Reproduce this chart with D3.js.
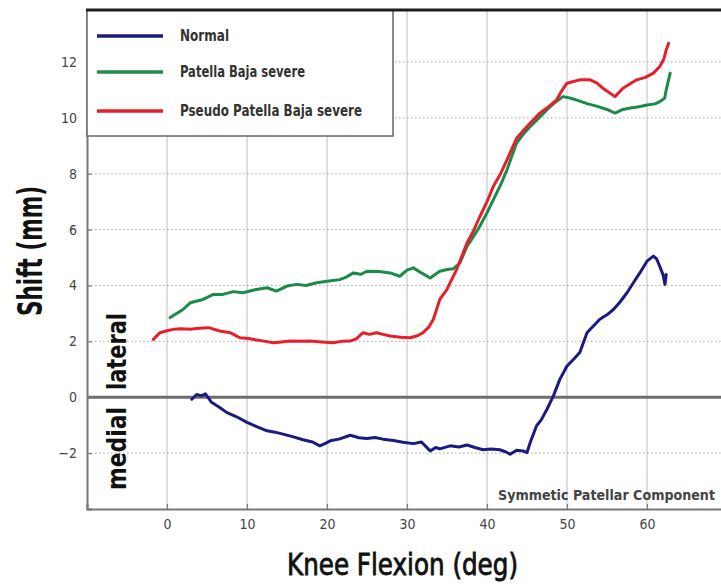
<!DOCTYPE html>
<html>
<head>
<meta charset="utf-8">
<script src="https://cdn.jsdelivr.net/npm/d3@7/dist/d3.min.js"></script>
<style>
  html, body { margin: 0; padding: 0; background: #fff; }
  svg { display: block; }
  .cond { font-family: "DejaVu Sans Condensed", "DejaVu Sans", sans-serif; font-stretch: condensed; }
</style>
</head>
<body>
<svg id="chart" width="721" height="584"></svg>
<script>
// Patellar shift vs knee flexion
const seriesNames = ["Normal", "Patella Baja severe", "Pseudo Patella Baja severe"];
const seriesColors = ["#1b1a82", "#1c8a48", "#e6202b"];

const normalX = [3.1,3.7,4.3,4.8,5.6,6.5,7.5,8.7,10,11.2,12.5,13.5,14.5,15.8,17,18.2,19.1,19.8,20.4,21.5,22.9,24,25,26,27,28.3,29.5,30.8,31.8,32.9,33.6,34.1,35.4,36.5,37.5,38.5,39.5,40.5,41.6,42.3,42.9,43.7,44.5,45,45.4,46.2,46.8,47.5,48.3,49.1,50,50.8,51.6,52.5,53.3,54.1,55,55.8,56.6,57.5,58.3,59.1,60,60.8,61.2,61.5,62,62.25,62.4];
const normalY = [-0.07,0.1,0.05,0.12,-0.19,-0.35,-0.55,-0.7,-0.9,-1.05,-1.2,-1.25,-1.32,-1.42,-1.52,-1.6,-1.74,-1.65,-1.56,-1.5,-1.36,-1.45,-1.48,-1.44,-1.5,-1.55,-1.61,-1.66,-1.6,-1.92,-1.8,-1.85,-1.74,-1.78,-1.71,-1.8,-1.88,-1.85,-1.88,-1.95,-2.04,-1.9,-1.92,-1.98,-1.62,-1.02,-0.8,-0.43,0.05,0.64,1.12,1.35,1.6,2.31,2.55,2.79,2.95,3.14,3.4,3.74,4.1,4.45,4.87,5.05,4.95,4.75,4.39,4.04,4.39];

const bajaX = [0.4,1.2,2.0,2.9,4.5,5.8,7,8.3,9.5,11,12.5,13.7,15,16.2,17.4,18.7,20,21.6,22.4,23.3,24.2,25,26.5,27.9,29.1,30,30.8,31.8,32.9,34.1,35,35.8,36.6,37.5,38.3,39.1,40,40.8,41.7,42.5,43.7,44.5,45.4,46.5,47.5,48.5,49.5,50.5,51.6,52.6,53.7,55,56,57,57.9,59,60,61,61.6,62.2,62.4,62.9];
const bajaY = [2.85,3.0,3.14,3.38,3.5,3.68,3.68,3.78,3.74,3.85,3.92,3.8,3.98,4.04,4.0,4.1,4.15,4.21,4.3,4.45,4.4,4.51,4.5,4.45,4.33,4.55,4.63,4.45,4.27,4.51,4.57,4.6,4.8,5.4,5.75,6.12,6.6,7.07,7.6,8.14,9.1,9.4,9.69,10.0,10.29,10.55,10.76,10.7,10.6,10.5,10.42,10.3,10.17,10.3,10.35,10.4,10.46,10.5,10.58,10.7,11.0,11.6];

const pseudoX = [-1.7,-0.9,0,0.8,1.8,2.9,4,5.2,6.6,7.9,9.1,10.2,11.2,12.3,13.3,14.3,15.4,16.7,17.9,19.3,20.8,21.8,22.9,23.7,24.5,25.3,26.2,27,27.9,29.2,30.4,31.3,32,32.7,33.3,34.1,35,35.4,36.2,37.5,38.3,39.1,40,40.8,41.7,42.5,43.7,45,46.6,47.7,48.7,49.3,50,50.8,51.6,52.9,53.7,54.5,56,57,57.8,58.7,59.8,60.8,61.6,62.1,62.4,62.7];
const pseudoY = [2.07,2.31,2.38,2.43,2.45,2.43,2.47,2.49,2.37,2.31,2.13,2.1,2.05,2.0,1.95,1.98,2.01,2.0,2.01,1.98,1.95,2.0,2.01,2.1,2.31,2.25,2.31,2.25,2.19,2.15,2.13,2.2,2.31,2.5,2.79,3.5,3.86,4.1,4.57,5.52,5.95,6.46,7.0,7.55,8.0,8.5,9.27,9.69,10.17,10.4,10.64,10.95,11.24,11.3,11.36,11.36,11.25,11.06,10.76,11.06,11.2,11.36,11.45,11.6,11.84,12.1,12.43,12.67];

const xTicks = [0, 10, 20, 30, 40, 50, 60];
const xGrid = [0, 10, 20, 30, 40, 50, 60, 70];
const yTicks = [-2, 0, 2, 4, 6, 8, 10, 12];
const yGrid = [-2, 2, 4, 6, 8, 10, 12];

const svg = d3.select("#chart");
const plotLeft = 87, plotRight = 727, plotTop = 10, plotBottom = 509;

const x = d3.scaleLinear().domain([-10, 70]).range([plotLeft, plotRight]);
const y = d3.scaleLinear().domain([-4, 13.86]).range([plotBottom, plotTop]);

// grid
svg.append("g").selectAll("line").data(xGrid).join("line")
  .attr("x1", d => x(d)).attr("x2", d => x(d))
  .attr("y1", plotTop).attr("y2", plotBottom)
  .attr("stroke", "#c9c9c9").attr("stroke-width", 1.2);

svg.append("g").selectAll("line").data(yGrid).join("line")
  .attr("x1", plotLeft).attr("x2", 721)
  .attr("y1", d => y(d)).attr("y2", d => y(d))
  .attr("stroke", "#b5b5b5").attr("stroke-width", 1.2)
  .attr("stroke-dasharray", "1.5,2.5");

// zero line
svg.append("line")
  .attr("x1", plotLeft).attr("x2", 721)
  .attr("y1", y(0)).attr("y2", y(0))
  .attr("stroke", "#6e6e6e").attr("stroke-width", 3);

// axes
const xAxis = d3.axisBottom(x).tickValues(xTicks).tickSize(-5).tickPadding(10).tickFormat(d3.format("d"));
const gx = svg.append("g").attr("transform", `translate(0,${plotBottom})`).call(xAxis);
gx.select(".domain").attr("stroke", "#777").attr("stroke-width", 2);
gx.selectAll(".tick line").attr("stroke", "#777").attr("stroke-width", 1.2);
gx.selectAll(".tick text").attr("class", "cond").attr("font-size", 14).attr("fill", "#444");

const yAxis = d3.axisLeft(y).tickValues(yTicks).tickSize(-5).tickPadding(10).tickFormat(d3.format("d"));
const gy = svg.append("g").attr("transform", `translate(${plotLeft},0)`).call(yAxis);
gy.select(".domain").attr("stroke", "#777").attr("stroke-width", 2);
gy.selectAll(".tick line").attr("stroke", "#777").attr("stroke-width", 1.2);
gy.selectAll(".tick text").attr("class", "cond").attr("font-size", 14).attr("fill", "#444");

// series lines
const line = d3.line().x(d => x(d[0])).y(d => y(d[1])).curve(d3.curveLinear);
const series = [
  d3.zip(normalX, normalY),
  d3.zip(bajaX, bajaY),
  d3.zip(pseudoX, pseudoY)
];
svg.append("g").selectAll("path").data(series).join("path")
  .attr("d", line)
  .attr("fill", "none")
  .attr("stroke", (d, i) => seriesColors[i])
  .attr("stroke-width", 3)
  .attr("stroke-linejoin", "round")
  .attr("stroke-linecap", "round");

// legend
const lg = svg.append("g");
lg.append("rect").attr("x", plotLeft).attr("y", plotTop).attr("width", 306).attr("height", 126)
  .attr("fill", "#fff").attr("stroke", "#666").attr("stroke-width", 1.5);
const legendY = [36, 72, 111];
const legendW = [49, 125, 182];
seriesNames.forEach((name, i) => {
  lg.append("line").attr("x1", 97).attr("x2", 163)
    .attr("y1", legendY[i]).attr("y2", legendY[i])
    .attr("stroke", seriesColors[i]).attr("stroke-width", 3.5);
  lg.append("text").attr("class", "cond")
    .attr("x", 180).attr("y", legendY[i] + 5)
    .attr("font-size", 15).attr("font-weight", "bold").attr("fill", "#333")
    .attr("textLength", legendW[i]).attr("lengthAdjust", "spacingAndGlyphs")
    .text(name);
});

// top border
svg.append("line").attr("x1", plotLeft - 1).attr("x2", 721)
  .attr("y1", plotTop).attr("y2", plotTop)
  .attr("stroke", "#1e1e1e").attr("stroke-width", 3);

// annotation
svg.append("text").attr("class", "cond")
  .attr("x", 498).attr("y", 500)
  .attr("font-size", 14).attr("font-weight", "bold").attr("fill", "#444")
  .attr("textLength", 217).attr("lengthAdjust", "spacingAndGlyphs")
  .text("Symmetic Patellar Component");

// axis titles
svg.append("text").attr("class", "cond")
  .attr("x", 287).attr("y", 575)
  .attr("font-size", 30).attr("fill", "#111")
  .attr("stroke", "#111").attr("stroke-width", 0.8)
  .attr("textLength", 231).attr("lengthAdjust", "spacingAndGlyphs")
  .text("Knee Flexion (deg)");

svg.append("text").attr("class", "cond")
  .attr("transform", "translate(42,316) rotate(-90)")
  .attr("font-size", 33).attr("font-weight", "bold").attr("fill", "#111")
  .attr("textLength", 130).attr("lengthAdjust", "spacingAndGlyphs")
  .text("Shift (mm)");

svg.append("text").attr("class", "cond")
  .attr("transform", "translate(126,390) rotate(-90)")
  .attr("font-size", 27).attr("font-weight", "bold").attr("fill", "#111")
  .attr("textLength", 77).attr("lengthAdjust", "spacingAndGlyphs")
  .text("lateral");

svg.append("text").attr("class", "cond")
  .attr("transform", "translate(126,490) rotate(-90)")
  .attr("font-size", 27).attr("font-weight", "bold").attr("fill", "#111")
  .attr("textLength", 83).attr("lengthAdjust", "spacingAndGlyphs")
  .text("medial");
</script>
</body>
</html>
